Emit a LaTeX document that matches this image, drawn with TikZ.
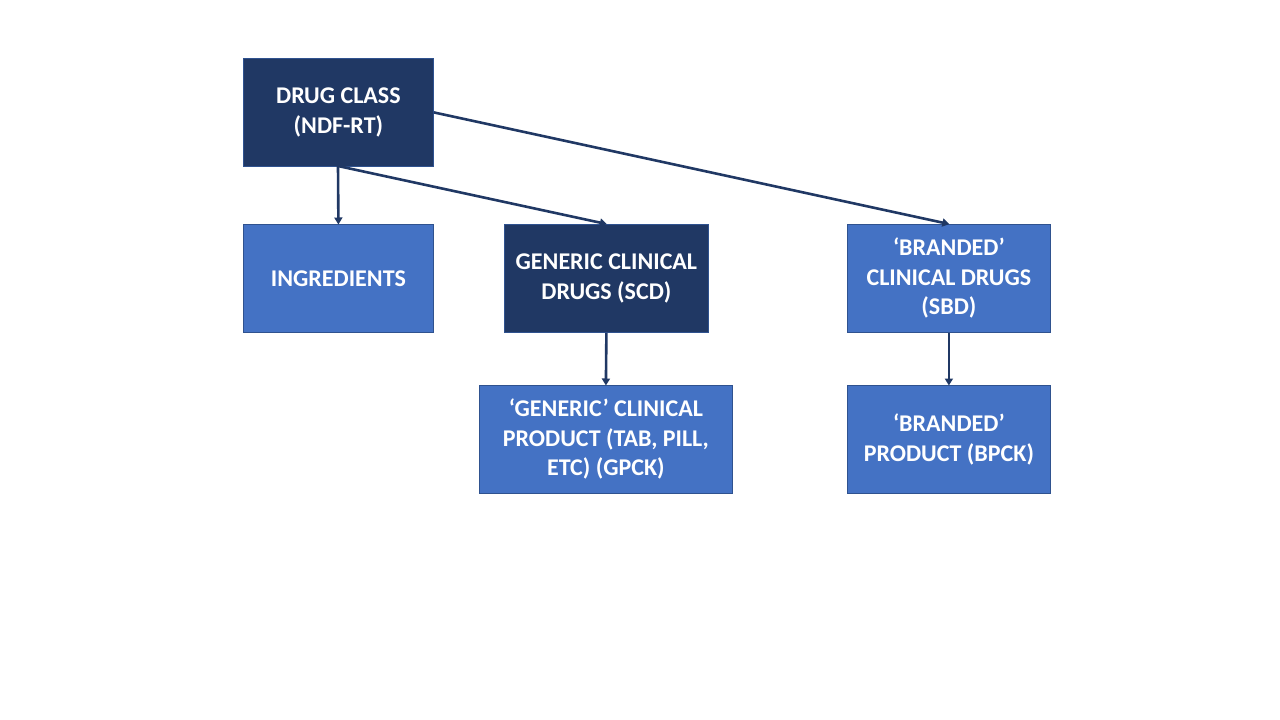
\documentclass[tikz,border=0pt]{standalone}
\usepackage{fontspec}
\setmainfont{Carlito}
\usetikzlibrary{arrows.meta}
\definecolor{darkbox}{HTML}{203864}
\definecolor{bluebox}{HTML}{4472C4}
\definecolor{boxline}{HTML}{2F528F}
\definecolor{arrowcol}{HTML}{203864}
\tikzset{
  box/.style={draw=boxline, line width=0.8pt, minimum height=108pt, inner sep=0pt,
    text=white, font=\fontsize{24}{29.5}\selectfont\bfseries, align=center, anchor=north west},
  darkfill/.style={fill=darkbox},
  bluefill/.style={fill=bluebox},
  conn/.style={draw=arrowcol, line width=2.6pt, -{Triangle[length=7pt,width=8pt]}, shorten >=-0.5pt}
}
\begin{document}
\begin{tikzpicture}[x=1pt,y=-1pt]
\useasboundingbox (0,0) rectangle (1280,720);
\node[box, darkfill, minimum width=190pt] (dc) at (243,58) {DRUG CLASS\\(NDF-RT)};
\node[box, bluefill, minimum width=190pt] (ing) at (243,224) {INGREDIENTS};
\node[box, darkfill, minimum width=204pt] (scd) at (504,224) {GENERIC CLINICAL\\DRUGS (SCD)};
\node[box, bluefill, minimum width=203pt] (sbd) at (847,224) {‘BRANDED’\\CLINICAL DRUGS\\(SBD)};
\node[box, bluefill, minimum width=253pt] (gpck) at (479,385) {‘GENERIC’ CLINICAL\\PRODUCT (TAB, PILL,\\ETC) (GPCK)};
\node[box, bluefill, minimum width=203pt] (bpck) at (847,385) {‘BRANDED’\\PRODUCT (BPCK)};
\coordinate (dcb) at (338,166);
\draw[conn] (dcb) -- (ing.north);
\draw[conn] (dcb) -- (scd.north);
\draw[conn] (dc.east) -- (sbd.north);
\draw[conn] (scd.south) -- (gpck.north);
\draw[conn] (sbd.south) -- (bpck.north);
\end{tikzpicture}
\end{document}
